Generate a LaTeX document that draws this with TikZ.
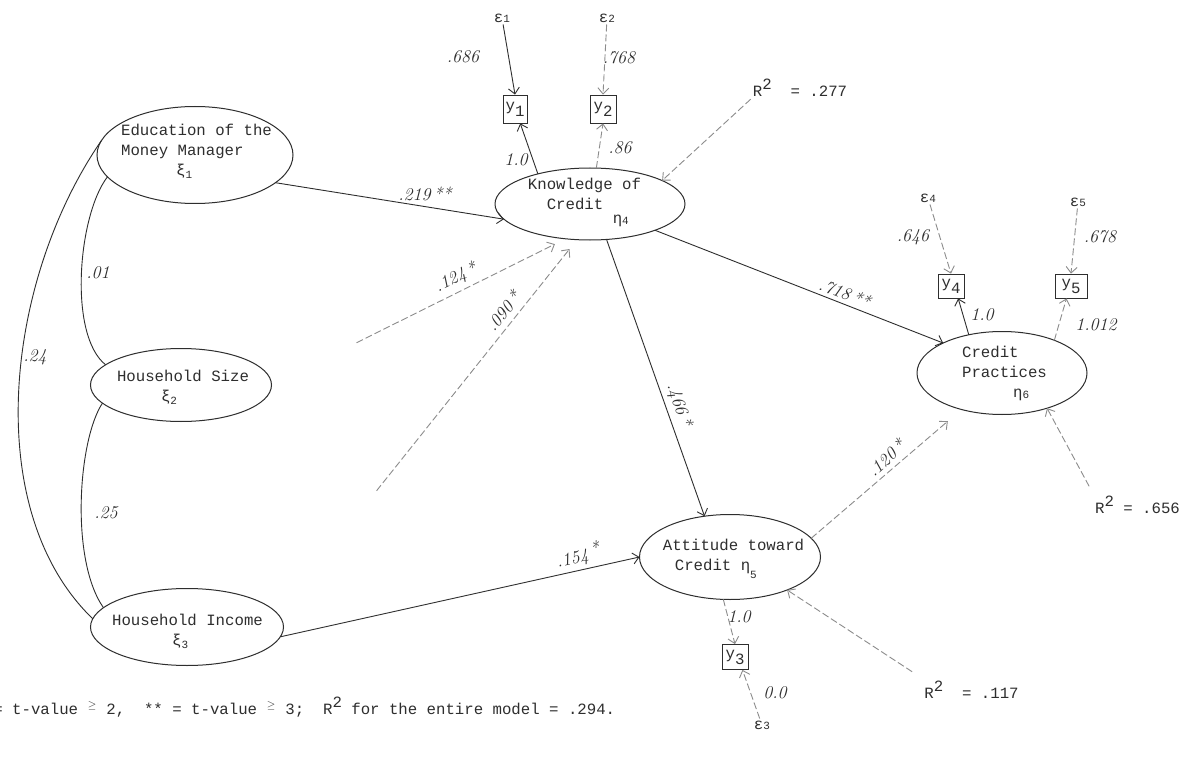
\documentclass[tikz,border=0pt]{standalone}
\usepackage{fontspec}
\setmonofont{Liberation Mono}
\usetikzlibrary{shapes.geometric,arrows.meta}
\definecolor{ink}{gray}{0.18}
\newcommand{\tw}{\fontsize{15.7}{20}\selectfont\ttfamily}
\newcommand{\hw}{\fontsize{18}{18}\selectfont\itshape}
\newcommand{\gsub}[3][-3pt]{#2\raisebox{#1}{\fontsize{11}{11}\selectfont #3}}
\newcommand{\cbx}[3]{\makebox[0pt]{\hspace*{#1}\smash{\raisebox{#2}{\begin{tabular}{@{}l@{}}#3\end{tabular}}}}}
\tikzset{
  lat/.style={ellipse, draw=ink, line width=1pt, inner sep=0pt, outer sep=0pt, font=\tw, text=ink},
  obs/.style={rectangle, draw=ink, line width=0.8pt, inner sep=1.5pt, font=\tw, text=ink},
  typ/.style={font=\tw, text=ink, inner sep=2pt},
  hand/.style={font=\hw, text=ink, inner sep=1pt},
  arr/.style={draw=ink, line width=0.9pt, -{Straight Barb[length=6pt,width=11pt]}},
  faint/.style={arr, draw=ink!55, dash pattern=on 7pt off 3pt},
  corr/.style={draw=ink, line width=0.9pt},
}
\begin{document}
\begin{tikzpicture}[x=1pt,y=-1pt]
\useasboundingbox (0,0) rectangle (1187,757);
\fill[white] (0,0) rectangle (1187,757);

% latent variables
\node[lat, minimum width=196pt, minimum height=97pt] (ed) at (195,155)
  {\cbx{3pt}{0pt}{Education of the\\Money Manager\\\hspace*{55pt}\gsub{ξ}{1}}};
\node[lat, minimum width=181pt, minimum height=73pt] (hs) at (181,385)
  {\cbx{4pt}{-6pt}{Household Size\\\hspace*{44pt}\gsub{ξ}{2}}};
\node[lat, minimum width=193pt, minimum height=77pt] (hi) at (187,627)
  {\cbx{1pt}{-8pt}{Household Income\\\hspace*{60pt}\gsub{ξ}{3}}};
\node[lat, minimum width=190pt, minimum height=72pt] (kn) at (590,204)
  {\cbx{-11pt}{5pt}{Knowledge of\\\ \ Credit\ \raisebox{-14pt}[0pt][0pt]{\gsub[-1pt]{η}{4}}}};
\node[lat, minimum width=181pt, minimum height=85pt] (att) at (730,557)
  {\cbx{7pt}{-4pt}{Attitude toward\\\hspace*{12pt}Credit \gsub[-8pt]{η}{5}}};
\node[lat, minimum width=170pt, minimum height=83pt] (cp) at (1002,373)
  {\cbx{5pt}{-4pt}{Credit\\Practices\\\hspace*{51pt}\gsub[-1pt]{η}{6}}};

% observed variables
\node[obs, minimum width=24pt, minimum height=28pt] (y1) at (515,109) {y\raisebox{-6pt}{1}};
\node[obs, minimum width=26pt, minimum height=28pt] (y2) at (603,109) {y\raisebox{-6pt}{2}};
\node[obs, minimum width=26pt, minimum height=24pt] (y4) at (951,286) {y\raisebox{-6pt}{4}};
\node[obs, minimum width=32pt, minimum height=24pt] (y5) at (1071,286) {y\raisebox{-6pt}{5}};
\node[obs, minimum width=26pt, minimum height=25pt] (y3) at (735,657) {y\raisebox{-6pt}{3}};

% errors
\node[typ] (e1) at (502,18) {\gsub[0pt]{ε}{1}};
\node[typ] (e2) at (607,18) {\gsub[0pt]{ε}{2}};
\node[typ] (e4) at (928,198) {\gsub[0pt]{ε}{4}};
\node[typ] (e5) at (1078,202) {\gsub[0pt]{ε}{5}};
\node[typ] (e3) at (762,725) {\gsub[0pt]{ε}{3}};

% R^2 labels
\node[typ, anchor=base] (r1) at (800,97) {R\raisebox{7pt}{2}\ \ = .277};
\node[typ, anchor=base] (r2) at (1137.5,513) {R\raisebox{7pt}{2} = .656};
\node[typ, anchor=base] (r3) at (971.5,698) {R\raisebox{7pt}{2}\ \ = .117};

% footnote
\node[typ, anchor=base west] (fn) at (-27.7,714)
  {* = t-value \makebox[9.42pt]{$^{\geq}$} 2,\ \ ** = t-value \makebox[9.42pt]{$^{\geq}$} 3;\ \ R\raisebox{7pt}{2} for the entire model = .294.};

% correlations
\draw[corr] (ed.171) .. controls (5,280) and (-20,510) .. (hi.175);
\draw[corr] (ed.194) .. controls (78,215) and (68,335) .. (hs.165);
\draw[corr] (hs.193) .. controls (78,440) and (70,560) .. (hi.167);

% structural paths
\draw[arr] (ed.-19) -- (kn.190);
\draw[faint, shorten <=95pt, shorten >=12pt] (hs.east) -- (kn.235);
\draw[faint, shorten <=158pt, shorten >=12pt] (hi.8) -- (kn.250);
\draw[arr] (kn.-65) -- (att.122);
\draw[arr] (kn.-22) -- (cp.153);
\draw[faint, shorten >=18pt] (att.13) -- (cp.222);
\draw[arr] (hi.-6) -- (att.180);

% disturbance arrows
\draw[faint] (r1.south west) -- (kn.18);
\draw[faint, shorten <=8pt] (r2.north west) -- (cp.-38);
\draw[faint, shorten <=12pt] (r3.north west) -- (att.-30);

% measurement arrows
\draw[arr] (kn.150) -- (y1.-70);
\draw[faint] (kn.80) -- (y2.south);
\draw[arr] (e1) -- (y1.north);
\draw[faint] (e2) -- (y2.north);
\draw[arr] (cp.131) -- (y4.-60);
\draw[faint] (cp.32) -- (y5.-110);
\draw[faint] (e4) -- (y4.north);
\draw[faint] (e5) -- (y5.north);
\draw[faint] (att.261) -- (y3.north);
\draw[faint] (e3) -- (y3.-60);

% handwritten coefficients
\node[hand] (l686) at (463,57) {.686};
\node[hand] (l768) at (619,58) {.768};
\node[hand] (l10a) at (516,160) {1.0};
\node[hand] (l86) at (620,148) {.86};
\node[hand] (l219) at (425,194) {.219\,**};
\node[hand, rotate=26] (l124) at (456,278) {.124\,*};
\node[hand, rotate=51] (l090) at (503,311) {.090\,*};
\node[hand, rotate=-71] (l466) at (679,405) {.466\,*};
\node[hand, rotate=-21] (l718) at (845,293) {.718\,**};
\node[hand, rotate=43] (l120) at (886,458) {.120\,*};
\node[hand, rotate=13] (l154) at (578,556) {.154\,\raisebox{4pt}{*}};
\node[hand] (l646) at (913,237) {.646};
\node[hand] (l678) at (1100,237) {.678};
\node[hand] (l10b) at (982,315) {1.0};
\node[hand] (l1012) at (1096,325) {1.012};
\node[hand] (l10c) at (739,617) {1.0};
\node[hand] (l00) at (775,693) {0.0};
\node[hand] (l01) at (98,273) {.01};
\node[hand] (l24) at (35,357) {.24};
\node[hand] (l25) at (106,513) {.25};
\end{tikzpicture}
\end{document}
